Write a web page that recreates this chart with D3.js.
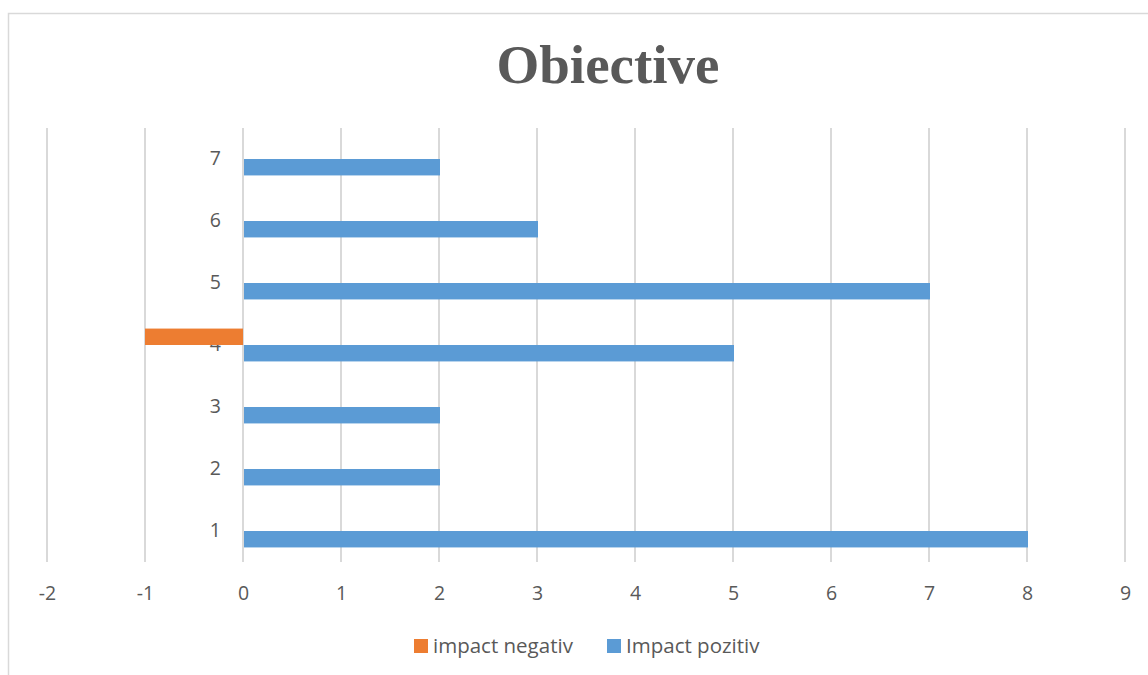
<!DOCTYPE html>
<html><head><meta charset="utf-8">
<script src="https://cdn.jsdelivr.net/npm/d3@7"></script>
<style>body{margin:0;background:#fff}svg{display:block}</style>
</head><body><svg id="c" width="1148" height="675"></svg>
<script>
const categories = ["1","2","3","4","5","6","7"];
const seriesNames = ["impact negativ","Impact pozitiv"];
const negativ = [0,0,0,-1,0,0,0];
const pozitiv = [8,2,2,5,7,3,2];
const xTicks = [-2,-1,0,1,2,3,4,5,6,7,8,9];
const colors = ["#ED7D31","#5B9BD5"];

const svg = d3.select("#c");
svg.append("rect").attr("x",8.5).attr("y",13.5).attr("width",1148).attr("height",700)
  .attr("fill","#fff").attr("stroke","#d9d9d9").attr("stroke-width",1.5);

const x = d3.scaleLinear().domain([-2,9]).range([47,1125]);
const y = d3.scaleBand().domain(categories.slice().reverse()).range([128,562]).paddingInner(0.47).paddingOuter(0.235);
const ys = d3.scaleBand().domain(seriesNames).range([0,y.bandwidth()]);

svg.append("text").attr("x",608).attr("y",83).attr("text-anchor","middle")
  .attr("font-family","Liberation Serif").attr("font-weight","bold").attr("font-size",55)
  .attr("fill","#595959").text("Obiective");

// grid
svg.append("g").selectAll("line").data(xTicks).join("line")
  .attr("x1",d=>x(d)).attr("x2",d=>x(d)).attr("y1",128).attr("y2",562)
  .attr("stroke","#d9d9d9").attr("stroke-width",2);

// x axis labels
const xa = svg.append("g").attr("transform","translate(0,562)")
  .call(d3.axisBottom(x).tickValues(xTicks).tickSize(0).tickPadding(24).tickFormat(d=>String(d)));
xa.select(".domain").remove();
xa.selectAll("text").attr("font-family","Open Sans").attr("font-size",19.5).attr("fill","#595959");

// y axis labels
const ya = svg.append("g").attr("transform","translate(221,0)")
  .call(d3.axisLeft(y).tickSize(0).tickPadding(0));
ya.select(".domain").remove();
ya.selectAll("text").attr("font-family","Open Sans").attr("font-size",19.5).attr("fill","#595959");

const data = [negativ,pozitiv];
data.forEach((vals,si)=>{
  svg.append("g").selectAll("rect").data(categories).join("rect")
    .attr("x",(c,i)=>Math.min(x(0),x(vals[i]))+ (vals[i]>0?1:0))
    .attr("width",(c,i)=>Math.abs(x(vals[i])-x(0)))
    .attr("y",c=>y(c)+ys(seriesNames[si]))
    .attr("height",ys.bandwidth())
    .attr("fill",colors[si]);
});

// legend
const lg = svg.append("g");
const lx=[414,607];
seriesNames.forEach((n,i)=>{
  lg.append("rect").attr("x",lx[i]).attr("y",639).attr("width",14).attr("height",14).attr("fill",colors[i]);
  lg.append("text").attr("x",lx[i]+19).attr("y",653).attr("font-family","Open Sans").attr("font-size",20.5)
    .attr("fill","#595959").text(n);
});
</script></body></html>
